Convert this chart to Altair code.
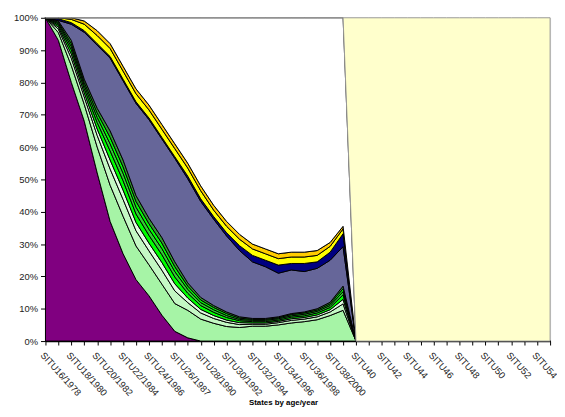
import altair as alt
import pandas as pd

categories = [
    "SITU16/1978", "SITU17/1979", "SITU18/1980", "SITU19/1981", "SITU20/1982",
    "SITU21/1983", "SITU22/1984", "SITU23/1985", "SITU24/1986", "SITU25/1986b",
    "SITU26/1987", "SITU27/1989", "SITU28/1990", "SITU29/1991", "SITU30/1992",
    "SITU31/1993", "SITU32/1994", "SITU33/1995", "SITU34/1996", "SITU35/1997",
    "SITU36/1998", "SITU37/1999", "SITU38/2000", "SITU39/2001", "SITU40",
    "SITU41", "SITU42", "SITU43", "SITU44", "SITU45", "SITU46", "SITU47",
    "SITU48", "SITU49", "SITU50", "SITU51", "SITU52", "SITU53", "SITU54", "SITU55",
]
shown_labels = [
    "SITU16/1978", "SITU18/1980", "SITU20/1982", "SITU22/1984", "SITU24/1986",
    "SITU26/1987", "SITU28/1990", "SITU30/1992", "SITU32/1994", "SITU34/1996",
    "SITU36/1998", "SITU38/2000", "SITU40", "SITU42", "SITU44", "SITU46",
    "SITU48", "SITU50", "SITU52", "SITU54",
]
Z16 = [0, 0, 0, 0, 0, 0, 0, 0, 0, 0, 0, 0, 0, 0, 0, 0]

s_purple = [100, 93, 80, 68, 52, 37, 27, 19, 14, 8, 3, 1, 0, 0, 0, 0, 0, 0, 0, 0, 0, 0, 0, 0] + Z16
s_dot1 = [0, 2.4, 5.2, 5.2, 8, 11.2, 11.6, 10.4, 9.6, 9.6, 8.6, 8.5, 6.8, 5.5, 4.5, 4.2, 4.6, 4.6, 5.0, 5.6, 6.0, 6.6, 7.9, 9.5] + Z16
s_dot2 = [0, 1.1, 2.3, 2.3, 3.6, 5, 5.2, 4.7, 4.3, 4.3, 3.9, 2.4, 1.9, 1.5, 1.3, 0.9, 0.6, 0.6, 0.7, 0.8, 0.8, 0.9, 1.1, 2.0] + Z16
s_dot3 = [0, 0.6, 1.3, 1.3, 2, 2.8, 2.9, 2.6, 2.4, 2.4, 2.2, 1.4, 1.1, 0.9, 0.7, 0.6, 0.4, 0.4, 0.4, 0.5, 0.5, 0.6, 0.7, 1.4] + Z16
s_green1 = [0, 0.6, 1.3, 1.3, 2, 2.8, 2.9, 2.6, 2.4, 2.4, 2.1, 1.5, 1.2, 1.0, 0.8, 0.6, 0.4, 0.4, 0.4, 0.5, 0.5, 0.6, 0.7, 1.4] + Z16
s_green2 = [0, 0.5, 1.0, 1.0, 1.6, 2.2, 2.3, 2.1, 1.9, 1.9, 1.7, 1.2, 0.9, 0.8, 0.6, 0.4, 0.4, 0.4, 0.4, 0.4, 0.5, 0.5, 0.6, 1.0] + Z16
s_green3 = [0, 0.4, 0.9, 0.9, 1.4, 2, 2.0, 1.8, 1.7, 1.7, 1.5, 1.0, 0.8, 0.7, 0.6, 0.4, 0.3, 0.3, 0.3, 0.4, 0.4, 0.4, 0.5, 0.9] + Z16
s_green4 = [0, 0.4, 1.0, 1.0, 1.4, 2, 2.1, 1.8, 1.7, 1.7, 1.5, 1.0, 0.8, 0.6, 0.5, 0.4, 0.3, 0.3, 0.3, 0.3, 0.3, 0.4, 0.5, 0.8] + Z16
s_slate = [0, 0.2, 5, 14.5, 19.5, 22.5, 24.5, 28.5, 30.5, 30.5, 32, 32.2, 29.7, 26.7, 23.5, 20.5, 17.5, 16, 13.5, 13.5, 12.5, 12.5, 13, 12.2] + Z16
s_navy = [0, 0.5, 0.5, 0.5, 0.5, 0.5, 0.5, 0.5, 0.5, 0.5, 0.5, 0.8, 0.8, 0.8, 1, 1.5, 2, 2, 2.5, 2, 2.5, 2, 2.5, 4] + Z16
s_yellow = [0, 0.3, 1, 2, 2.5, 2.5, 2.5, 2.5, 2.5, 2.5, 2.5, 2.5, 2.5, 2, 2, 2, 2, 2, 2, 2, 2, 2, 1.8, 1.5] + Z16
s_gold = [0, 0, 0.5, 1, 1.5, 1.5, 1.5, 1.5, 1.5, 1.5, 1.5, 1.5, 1.5, 1.5, 1.5, 1.5, 1.5, 1.5, 1.5, 1.5, 1.5, 1.5, 1.2, 0.8] + Z16
s_white = [0, 0, 0, 1, 4, 8, 15, 22, 27, 33, 39, 45, 52, 58, 63, 67, 70, 71.5, 73, 72.5, 72.5, 72, 69.5, 64.5] + Z16
s_beige = [0, 0, 0, 0, 0, 0, 0, 0, 0, 0, 0, 0, 0, 0, 0, 0, 0, 0, 0, 0, 0, 0, 0, 0,
           100, 100, 100, 100, 100, 100, 100, 100, 100, 100, 100, 100, 100, 100, 100, 100]

series = [
    ("S01", s_purple, "#800080", "#000000"),
    ("S02", s_dot1, "#A6F4A6", "#000000"),
    ("S03", s_dot2, "#C4F8C4", "#000000"),
    ("S04", s_dot3, "#E2FCE2", "#000000"),
    ("S05", s_green1, "#00FF00", "#000000"),
    ("S06", s_green2, "#33CC33", "#000000"),
    ("S07", s_green3, "#00FF00", "#000000"),
    ("S08", s_green4, "#339933", "#000000"),
    ("S09", s_slate, "#666699", "#000000"),
    ("S10", s_navy, "#000080", "#000000"),
    ("S11", s_yellow, "#FFFF00", "#000000"),
    ("S12", s_gold, "#FFCC00", "#000000"),
    ("S13", s_white, "#FFFFFF", "#000000"),
    ("S14", s_beige, "#FFFFCC", "#999999"),
]

rows = []
for k, (name, vals, _, _) in enumerate(series):
    for c, v in zip(categories, vals):
        rows.append({"situ": c, "series": name, "value": v, "k": k})
df = pd.DataFrame(rows)

names = [s[0] for s in series]
fills = [s[2] for s in series]
strokes = [s[3] for s in series]

shown_js = "[" + ",".join("'" + s + "'" for s in shown_labels) + "]"

chart = alt.Chart(df).mark_area(strokeWidth=1, interpolate="linear", opacity=1).encode(
    x=alt.X(
        "situ:O",
        sort=categories,
        scale=alt.Scale(type="point", padding=0),
        axis=alt.Axis(
            title="States by age/year",
            labelAngle=48,
            labelAlign="left",
            labelBaseline="top",
            labelExpr="indexof(" + shown_js + ", datum.value) >= 0 ? datum.value : ''",
            labelFont="Liberation Sans",
            labelFontSize=9.5,
            labelColor="#222222",
            labelPadding=5,
            tickColor="#000000",
            tickSize=4,
            domainColor="#000000",
            domainWidth=1.5,
            titleFont="Liberation Sans",
            titleFontSize=8,
            titleFontWeight="bold",
            titleColor="#000000",
            titleX=241,
            titleY=62,
            titleBaseline="middle",
        ),
    ),
    y=alt.Y(
        "value:Q",
        stack="zero",
        scale=alt.Scale(domain=[0, 100], nice=False),
        axis=alt.Axis(
            title=None,
            values=[0, 10, 20, 30, 40, 50, 60, 70, 80, 90, 100],
            labelExpr="datum.value + '%'",
            labelFont="Liberation Sans",
            labelFontSize=9.5,
            labelColor="#222222",
            labelPadding=3,
            tickColor="#000000",
            tickSize=5,
            domainColor="#000000",
            domainWidth=1.5,
            grid=False,
        ),
    ),
    color=alt.Color("series:N", scale=alt.Scale(domain=names, range=fills), legend=None),
    stroke=alt.Stroke("series:N", scale=alt.Scale(domain=names, range=strokes), legend=None),
    order=alt.Order("k:Q", sort="ascending"),
).properties(
    width=512,
    height=328,
    padding={"left": 38, "top": 7, "right": 7, "bottom": 66},
    autosize="none",
).configure_view(stroke=None).configure(background="#FFFFFF")

chart.save("out.html", embed_options={"renderer": "svg", "actions": False})
